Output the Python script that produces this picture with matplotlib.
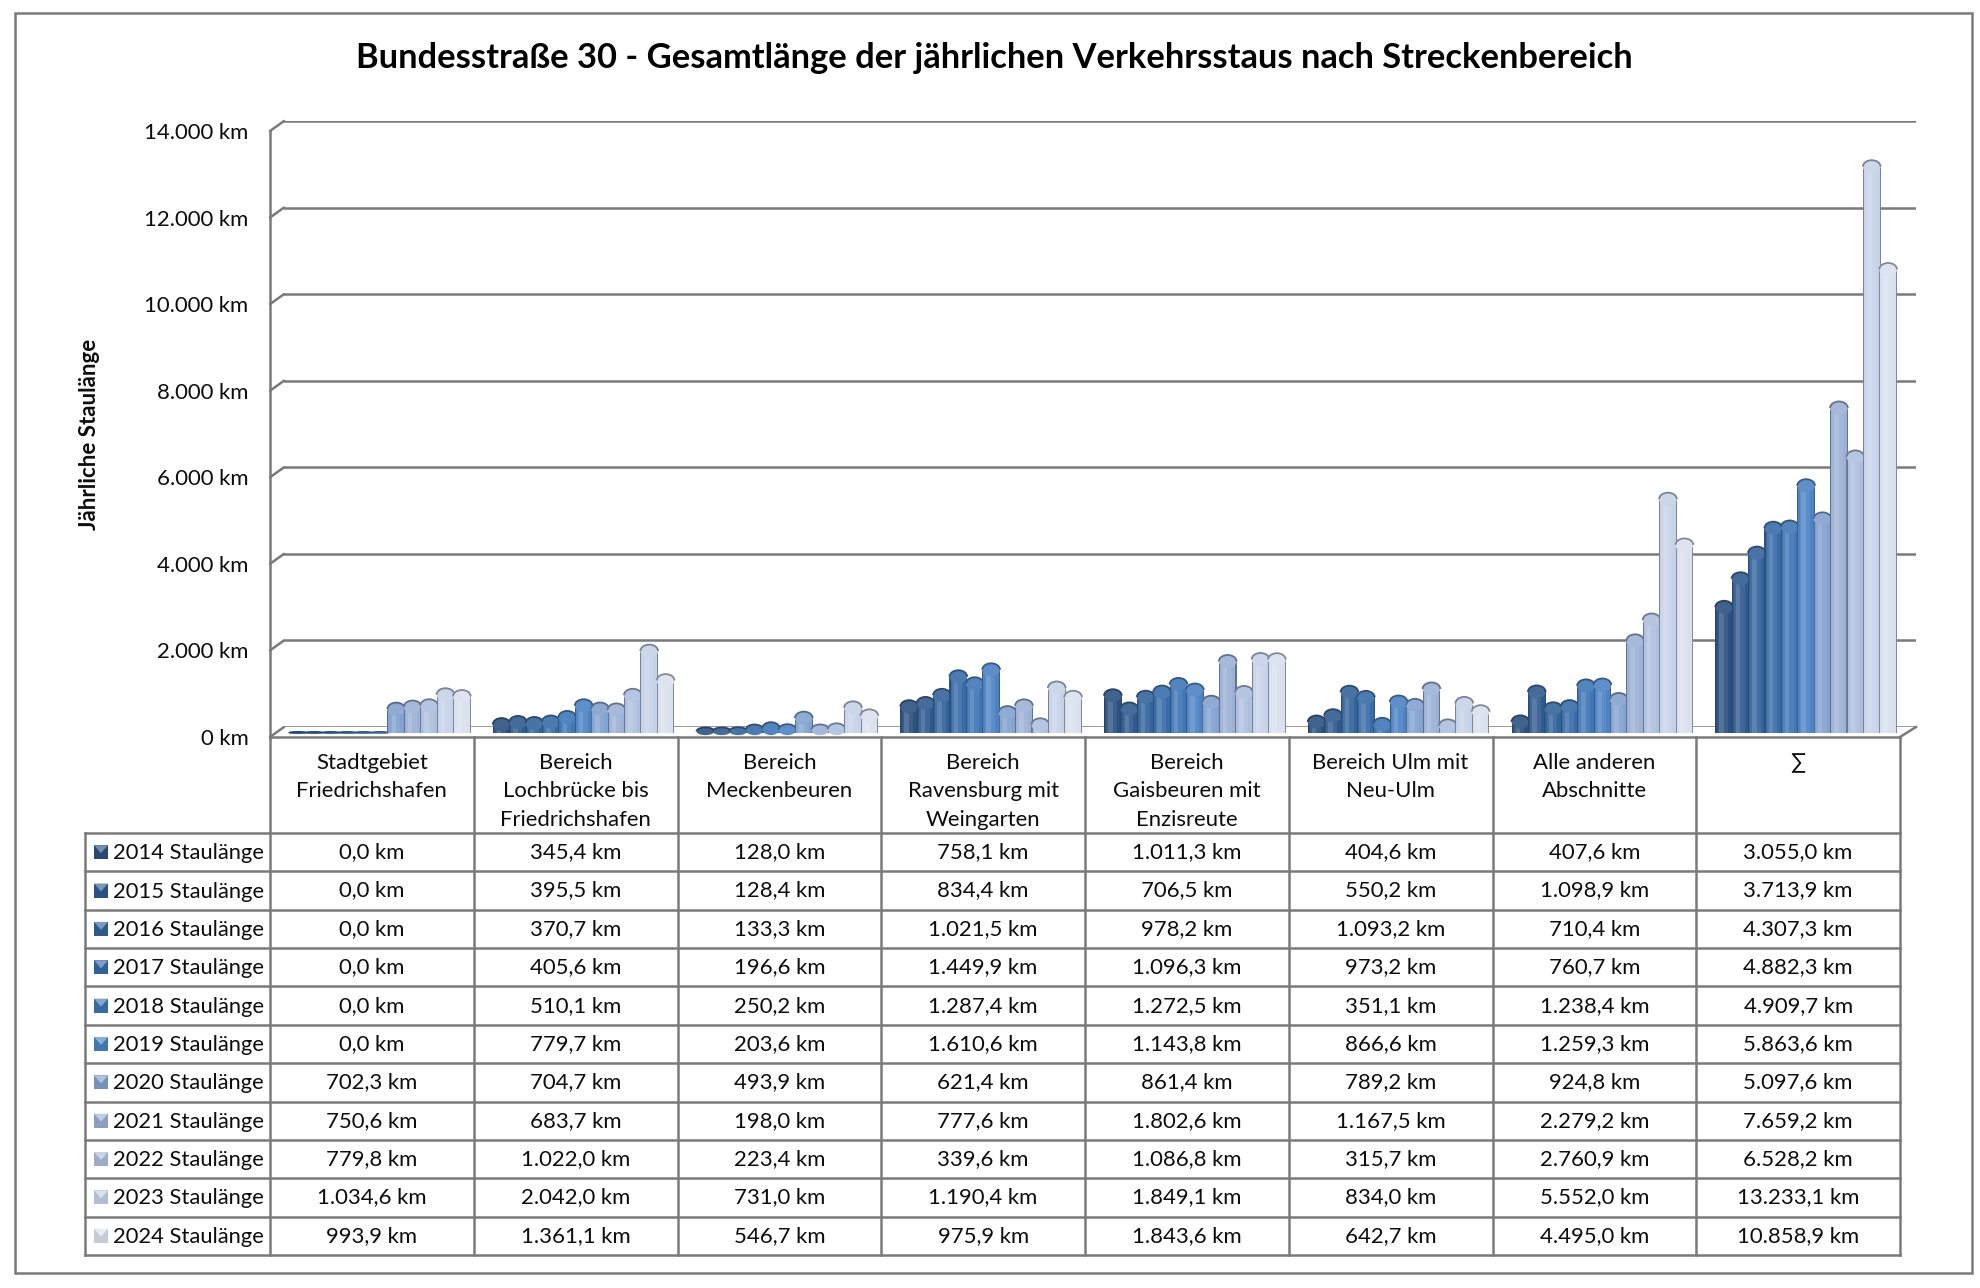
import numpy as np
import matplotlib
matplotlib.use("Agg")
import matplotlib.pyplot as plt
from matplotlib.colors import to_rgb
from matplotlib.patches import Arc, Ellipse, Rectangle, Polygon

plt.rcParams['font.family'] = ['Lato', 'DejaVu Sans']

W, H = 1980, 1288

title = "Bundesstraße 30 - Gesamtlänge der jährlichen Verkehrsstaus nach Streckenbereich"
ylabel = "Jährliche Staulänge"

categories = [
    "Stadtgebiet\nFriedrichshafen",
    "Bereich\nLochbrücke bis\nFriedrichshafen",
    "Bereich\nMeckenbeuren",
    "Bereich\nRavensburg mit\nWeingarten",
    "Bereich\nGaisbeuren mit\nEnzisreute",
    "Bereich Ulm mit\nNeu-Ulm",
    "Alle anderen\nAbschnitte",
    "∑",
]
years = [2014, 2015, 2016, 2017, 2018, 2019, 2020, 2021, 2022, 2023, 2024]

y2014 = [0.0, 345.4, 128.0, 758.1, 1011.3, 404.6, 407.6, 3055.0]
y2015 = [0.0, 395.5, 128.4, 834.4, 706.5, 550.2, 1098.9, 3713.9]
y2016 = [0.0, 370.7, 133.3, 1021.5, 978.2, 1093.2, 710.4, 4307.3]
y2017 = [0.0, 405.6, 196.6, 1449.9, 1096.3, 973.2, 760.7, 4882.3]
y2018 = [0.0, 510.1, 250.2, 1287.4, 1272.5, 351.1, 1238.4, 4909.7]
y2019 = [0.0, 779.7, 203.6, 1610.6, 1143.8, 866.6, 1259.3, 5863.6]
y2020 = [702.3, 704.7, 493.9, 621.4, 861.4, 789.2, 924.8, 5097.6]
y2021 = [750.6, 683.7, 198.0, 777.6, 1802.6, 1167.5, 2279.2, 7659.2]
y2022 = [779.8, 1022.0, 223.4, 339.6, 1086.8, 315.7, 2760.9, 6528.2]
y2023 = [1034.6, 2042.0, 731.0, 1190.4, 1849.1, 834.0, 5552.0, 13233.1]
y2024 = [993.9, 1361.1, 546.7, 975.9, 1843.6, 642.7, 4495.0, 10858.9]
series = [y2014, y2015, y2016, y2017, y2018, y2019, y2020, y2021, y2022, y2023, y2024]

colors = ['#2b5180', '#2f5a8e', '#33639b', '#386ca8', '#3f76b6', '#4c83c4',
          '#82a2cf', '#9cb1d6', '#aebfde', '#c6d2e8', '#d9e1ee']
y_ticks = [0, 2000, 4000, 6000, 8000, 10000, 12000, 14000]

GRID = '#7a7a7a'
TXT = '#0d0d0d'
FS = 15.9
LW = 1.8


def km(v, dec=1):
    s = f"{v:,.{dec}f}".replace(",", "X").replace(".", ",").replace("X", ".")
    return s + " km"


def px_axes(x0, x1, ytop, ybot):
    """Axes placed by reference pixel box"""
    return fig.add_axes([x0 / W, 1 - ybot / H, (x1 - x0) / W, (ybot - ytop) / H])


def mix(c, other, t):
    c, other = np.array(to_rgb(c)), np.array(to_rgb(other))
    return tuple(c * (1 - t) + other * t)


fig = plt.figure(figsize=(W / 100, H / 100), dpi=100, facecolor='white')

# back wall gridlines
ax_back = px_axes(284, 1916, 121, 727)
ax_back.set_xlim(0, 1)
ax_back.set_ylim(0, 14000)
ax_back.set_yticks(y_ticks)
ax_back.set_xticks([])
ax_back.tick_params(left=False, labelleft=False)
ax_back.grid(axis='y', color=GRID, lw=LW)
ax_back.set_axisbelow(True)
for s in ax_back.spines.values():
    s.set_visible(False)

# front axis carrying the tick labels
ax_front = px_axes(270, 1900, 131, 737)
ax_front.patch.set_alpha(0)
ax_front.set_xlim(0, 1)
ax_front.set_ylim(0, 14000)
ax_front.set_xticks([])
ax_front.set_yticks(y_ticks)
ax_front.set_yticklabels([km(t, 0) for t in y_ticks], fontsize=FS, color=TXT)
ax_front.tick_params(left=False, pad=12)
for name, s in ax_front.spines.items():
    s.set_visible(name in ('left', 'bottom'))
    s.set_color(GRID)
    s.set_linewidth(LW)
ax_front.set_ylabel(ylabel, fontsize=16, fontweight='bold', color=TXT, labelpad=32)

# pixel overlay for frame, wall diagonals and table
ax_px = fig.add_axes([0, 0, 1, 1])
ax_px.patch.set_alpha(0)
ax_px.set_xlim(0, W)
ax_px.set_ylim(H, 0)
ax_px.axis('off')

ax_px.add_patch(Rectangle((15, 13), 1957, 1260, fill=False, ec=GRID, lw=LW))
ax_px.text(994, 58, title, fontsize=24.85, fontweight='bold', ha='center', va='center', color='black')

for k in range(len(y_ticks)):
    yy = 737 - k * 86.57
    ax_px.plot([270, 284], [yy, yy - 10], color=GRID, lw=LW, solid_capstyle='round')
ax_px.plot([1900, 1916], [737, 727], color=GRID, lw=LW)

# bars, cylinders shaded with narrower strips on top of each other
ax_bars = px_axes(278, 1908, 127, 733)
ax_bars.patch.set_alpha(0)
ax_bars.set_xlim(0, 8)
ax_bars.set_ylim(0, 14000)
ax_bars.axis('off')

step = 0.0805
bw = 0.087
x = np.arange(len(categories)) + 0.5
cap_full = 300
for i, vals in enumerate(series):
    pos = x + (i - 5) * step
    vals = np.array(vals)
    z = 3 + i
    cap = np.minimum(cap_full, vals + 50)
    body = np.maximum(vals - cap / 2, 0)
    dark = mix(colors[i], '#2a3342', 0.5)
    ax_bars.bar(pos, body, bw, color=dark, lw=0, zorder=z)
    for frac, off, t in [(0.88, 0.0, 0.0), (0.6, -0.006, 0.08), (0.25, -0.012, 0.2)]:
        ax_bars.bar(pos + off, body, bw * frac, color=mix(colors[i], 'white', t), lw=0, zorder=z)
    for p, v, b, c in zip(pos, vals, body, cap):
        ax_bars.add_patch(Ellipse((p, b), bw, c, fc=mix(colors[i], 'white', 0.1), ec='none',
                                  zorder=z, clip_on=False))
        ax_bars.add_patch(Arc((p, b), bw, c, theta1=0, theta2=180, color=dark, lw=1.3,
                              zorder=z, clip_on=False))

# data table
t_left, t_head, t_right = 85, 270, 1900
col_w = (t_right - t_head) / len(categories)
r_top, r_h = 833, 38.36
n_rows = len(years)
r_bot = r_top + n_rows * r_h

for j in range(len(categories) + 1):
    xx = t_head + j * col_w
    ax_px.plot([xx, xx], [737, r_bot], color=GRID, lw=LW)
ax_px.plot([t_left, t_left], [r_top, r_bot], color=GRID, lw=LW)
for r in range(n_rows + 1):
    yy = r_top + r * r_h
    ax_px.plot([t_left, t_right], [yy, yy], color=GRID, lw=LW)

for j, cat in enumerate(categories):
    ax_px.text(t_head + (j + 0.5) * col_w, 753, cat, fontsize=FS, ha='center', va='top',
               color=TXT, linespacing=1.53)

for r, (yr, vals) in enumerate(zip(years, series)):
    yc = r_top + (r + 0.5) * r_h
    # legend key
    ax_px.add_patch(Rectangle((94, yc - 7), 14, 14, fc=mix(colors[r], 'black', 0.1), ec='none'))
    ax_px.add_patch(Polygon([(94, yc - 7), (108, yc - 7), (101, yc + 1)], fc=mix(colors[r], 'white', 0.35), ec='none'))
    ax_px.text(113, yc + 1, f"{yr} Staulänge", fontsize=15.8, va='center', ha='left', color=TXT)
    for j, v in enumerate(vals):
        ax_px.text(t_head + (j + 0.5) * col_w, yc, km(v), fontsize=FS, va='center', ha='center', color=TXT)

fig.savefig("out.png", dpi=100, facecolor='white')
